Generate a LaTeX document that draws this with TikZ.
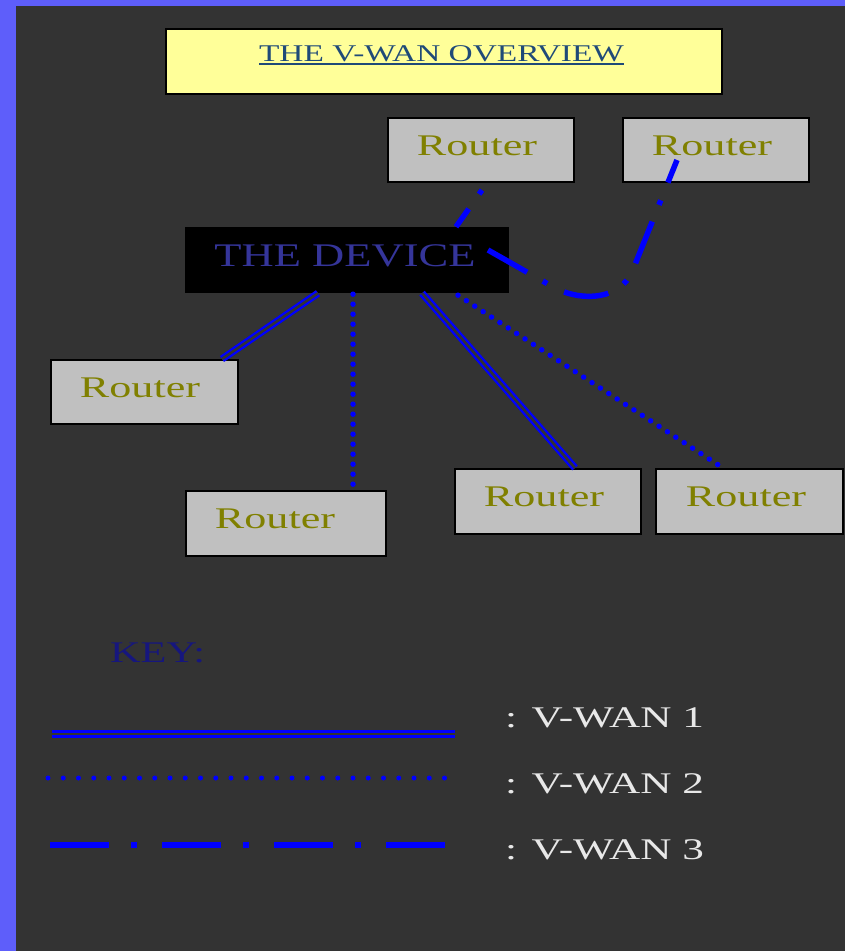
\documentclass[tikz,border=0pt]{standalone}
\usepackage{graphicx}
\usepackage{fontspec}
\setmainfont{Liberation Serif}
\usetikzlibrary{calc}
\definecolor{framecol}{HTML}{5E5EFA}
\definecolor{bgcol}{HTML}{333333}
\definecolor{titlefill}{HTML}{FFFF99}
\definecolor{titletext}{HTML}{1F4A78}
\definecolor{routerfill}{HTML}{C0C0C0}
\definecolor{routertext}{HTML}{808000}
\definecolor{devtext}{HTML}{35359A}
\definecolor{keytext}{HTML}{16167E}
\definecolor{labeltext}{HTML}{E8E8E8}
\definecolor{wanblue}{HTML}{0000FF}
\newcommand\widetext[2]{\scalebox{#1}[1]{#2}}
\newcommand\myul[1]{\setbox0\hbox{#1}\rlap{\rule[-3.5pt]{\wd0}{1.8pt}}\box0}
\newcommand\rtr[1]{\widetext{1.47}{Router}\kern#1\relax}
\tikzset{
  routerbox/.style={draw=black, line width=2pt, fill=routerfill, minimum width=186pt, minimum height=64pt,
     inner sep=0pt, text=routertext, text height=20pt, text depth=10pt,
     font=\fontsize{30}{30}\selectfont},
  devbox/.style={fill=black, draw=black, minimum width=323pt, minimum height=65pt, inner sep=0pt,
     text=devtext, text height=22pt, text depth=9pt, font=\fontsize{33}{33}\selectfont},
  titlebox/.style={draw=black, line width=1.5pt, fill=titlefill, minimum width=556pt, minimum height=65pt,
     inner sep=0pt, text=titletext, text height=16pt, text depth=17pt, font=\fontsize{24}{24}\selectfont},
  wanone/.style={draw=wanblue, line width=2.3pt, double=bgcol, double distance=2.6pt},
  wantwo/.style={draw=wanblue, line width=5.5pt, line cap=round, dash pattern=on 0pt off 10pt},
  wanthree/.style={draw=wanblue, line width=5.5pt, dash pattern=on 45pt off 18pt on 5pt off 19pt},
  keytwo/.style={draw=wanblue, line width=5pt, line cap=round, dash pattern=on 0pt off 15.25pt},
  keythree/.style={draw=wanblue, line width=5.5pt, dash pattern=on 59pt off 22pt on 6pt off 25pt},
  keylabel/.style={anchor=base west, inner sep=0pt, text=labeltext, font=\fontsize{30}{30}\selectfont},
}
\begin{document}
\begin{tikzpicture}[x=1pt, y=-1pt]
\useasboundingbox (0,0) rectangle (845,951);
\fill[framecol] (0,0) rectangle (845,951);
\fill[bgcol] (16,6) rectangle (845,951);

% nodes
\node[titlebox] (title) at (444,61.5) {\widetext{1.39}{\myul{THE V-WAN OVERVIEW}}\kern5pt\relax};
\node[routerbox] (ra) at (481,150) {\rtr{8pt}};
\node[routerbox] (rb) at (716,150) {\rtr{8pt}};
\node[devbox] (dev) at (346.5,259.5) {\widetext{1.35}{THE DEVICE}\kern3pt\relax};
\node[routerbox, minimum width=187pt] (rc) at (144.5,392) {\rtr{9pt}};
\node[routerbox, minimum width=200pt, minimum height=65pt] (rd) at (286,523.5) {\rtr{22pt}};
\node[routerbox, minimum height=65pt] (re) at (548,501.5) {\rtr{8pt}};
\node[routerbox, minimum width=187pt, minimum height=65pt] (rf) at (749.5,501.5) {\rtr{7pt}};

% connectors
\draw[wanone] ($(dev.south)+(-28.5,1)$) -- ($(rc.north)+(77.5,0)$);
\draw[wanone] ($(dev.south)+(75.5,1)$) -- ($(re.north)+(27,0)$);
\draw[wantwo] ($(dev.south)+(6.5,2)$) -- ($(rd.north)+(67,0)$);
\draw[wantwo] ($(dev.south)+(111.5,3)$) -- ($(rf.north)+(-26.5,0)$);
\draw[wanthree, dash phase=23pt] ($(dev.north)+(109.5,0)$) -- ($(ra.south)+(6,0)$);
\draw[wanthree] ($(dev.center)+(141.5,-9.5)$) -- (555,288)
   .. controls (585,303) and (620,298) .. (632,272) -- ($(rb.center)+(-39,10)$);

% key
\node[anchor=base west, inner sep=0pt, text=keytext, font=\fontsize{30}{30}\selectfont] (key) at (110,662) {\widetext{1.41}{KEY:}};
\coordinate (k1a) at (52,734);
\coordinate (k1b) at (455,734);
\coordinate (k2a) at (48,778);
\coordinate (k2b) at (445,778);
\coordinate (k3a) at (50,845);
\coordinate (k3b) at (448,845);
\draw[wanone] (k1a) -- (k1b);
\draw[keytwo] (k2a) -- (k2b);
\draw[keythree] (k3a) -- (k3b);
\node[keylabel] (l1) at (505,727) {\widetext{1.44}{: V-WAN 1}};
\node[keylabel] (l2) at (505,793) {\widetext{1.44}{: V-WAN 2}};
\node[keylabel] (l3) at (505,859) {\widetext{1.44}{: V-WAN 3}};
\end{tikzpicture}
\end{document}
